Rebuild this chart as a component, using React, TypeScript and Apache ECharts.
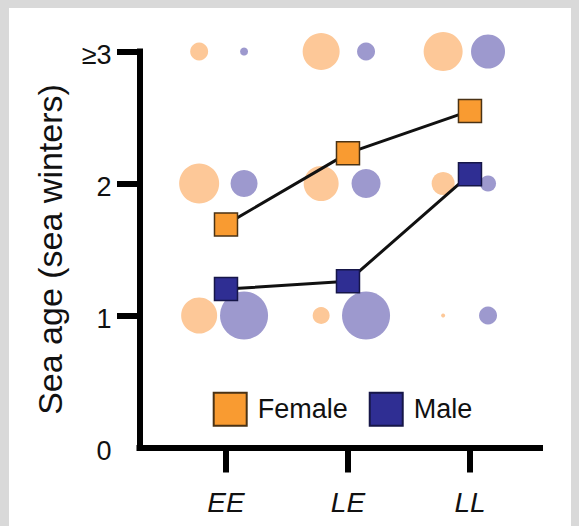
import React, { useEffect, useRef } from "react";
import * as echarts from "echarts";

const categories = ["EE", "LE", "LL"];
const ageRows = [1, 2, 3];
const yTickValues = [0, 1, 2, 3];
const yTickLabels = ["0", "1", "2", "≥3"];
const femaleMeans = [1.69, 2.23, 2.55];
const maleMeans = [1.2, 1.26, 2.07];
// bubble diameters per category, rows follow ageRows (1, 2, ≥3)
const femaleBubbles = [
  [36, 40, 18],
  [17, 35, 37],
  [4, 23, 39],
];
const maleBubbles = [
  [48, 27, 8],
  [48, 29, 18],
  [18, 16, 34],
];

const FONT = "'Liberation Sans', Arial, Helvetica, sans-serif";
const FEMALE_OFFSET = -0.22;
const MALE_OFFSET = 0.148;

export default function App() {
  const ref = useRef<HTMLDivElement>(null);

  useEffect(() => {
    if (!ref.current) return;
    const chart = echarts.init(ref.current, null, { renderer: "svg" });

    const bubbleData = (sets: number[][], offset: number) => {
      const out: number[][] = [];
      sets.forEach((row, ci) => {
        row.forEach((size, ri) => {
          out.push([ci + offset, ageRows[ri], size]);
        });
      });
      return out;
    };

    const catIdx = categories.map((_, i) => i);

    chart.setOption({
      animation: false,
      backgroundColor: "transparent",
      grid: {
        left: 139.5,
        right: 39,
        top: 51.5,
        bottom: 78.5,
        containLabel: false,
        outerBoundsMode: "none",
      },
      legend: {
        data: ["Female", "Male"],
        left: 212.7,
        top: 391.7,
        padding: 0,
        itemWidth: 33,
        itemHeight: 33,
        itemGap: 21,
        icon: "rect",
        selectedMode: false,
        textStyle: {
          fontSize: 27,
          color: "#111",
          fontFamily: FONT,
          padding: [0, 0, 0, 6],
        },
      },
      xAxis: {
        type: "value",
        min: -0.709,
        max: 2.574,
        splitLine: { show: false },
        axisLine: {
          show: true,
          onZero: false,
          lineStyle: { color: "#000", width: 6, cap: "square" },
        },
        axisTick: {
          show: true,
          customValues: catIdx,
          length: 25,
          lineStyle: { color: "#000", width: 6 },
        },
        axisLabel: {
          customValues: catIdx,
          formatter: (v: number) => categories[Math.round(v)] ?? "",
          margin: 41,
          fontSize: 28,
          fontStyle: "italic",
          color: "#111",
          fontFamily: FONT,
          verticalAlign: "top",
          lineHeight: 28,
        },
      },
      yAxis: {
        type: "value",
        min: 0,
        max: 3,
        interval: 1,
        name: "Sea age (sea winters)",
        nameLocation: "middle",
        nameGap: 73,
        nameTextStyle: { fontSize: 34, color: "#111", fontFamily: FONT },
        splitLine: { show: false },
        axisLine: {
          show: true,
          onZero: false,
          lineStyle: { color: "#000", width: 6, cap: "square" },
        },
        axisTick: {
          show: true,
          customValues: [1, 2, 3],
          length: 22.5,
          lineStyle: { color: "#000", width: 6 },
        },
        axisLabel: {
          showMinLabel: true,
          showMaxLabel: true,
          formatter: (v: number) =>
            "{t|" + (yTickLabels[yTickValues.indexOf(v)] ?? "") + "}",
          margin: 28,
          color: "#111",
          rich: {
            t: {
              fontSize: 27,
              fontFamily: FONT,
              color: "#111",
              padding: [7, 0, 0, 0],
            },
          },
        },
      },
      series: [
        {
          name: "Female proportion",
          type: "scatter",
          z: 1,
          data: bubbleData(femaleBubbles, FEMALE_OFFSET),
          symbol: "circle",
          symbolSize: (v: number[]) => v[2],
          itemStyle: { color: "#FDC898", opacity: 1 },
          silent: true,
        },
        {
          name: "Male proportion",
          type: "scatter",
          z: 1,
          data: bubbleData(maleBubbles, MALE_OFFSET),
          symbol: "circle",
          symbolSize: (v: number[]) => v[2],
          itemStyle: { color: "#9D99CE", opacity: 1 },
          silent: true,
        },
        {
          name: "Female",
          type: "line",
          z: 5,
          data: femaleMeans.map((m, i) => [i, m]),
          symbol: "rect",
          symbolSize: 23,
          showAllSymbol: true,
          lineStyle: { color: "#111", width: 3 },
          itemStyle: { color: "#F99B31", borderColor: "#4a3214", borderWidth: 1.5 },
        },
        {
          name: "Male",
          type: "line",
          z: 5,
          data: maleMeans.map((m, i) => [i, m]),
          symbol: "rect",
          symbolSize: 23,
          showAllSymbol: true,
          lineStyle: { color: "#111", width: 3 },
          itemStyle: { color: "#2F2E93", borderColor: "#161648", borderWidth: 1.5 },
        },
      ],
    });

    return () => chart.dispose();
  }, []);

  return (
    <div
      style={{
        position: "fixed",
        left: 0,
        top: 0,
        width: 579,
        height: 526,
        background: "#d9d9d9",
        overflow: "hidden",
      }}
    >
      <div
        style={{
          position: "absolute",
          left: 9,
          top: 8,
          width: 562,
          height: 530,
          background: "#ffffff",
        }}
      />
      <div
        ref={ref}
        style={{ position: "absolute", left: 0, top: 0, width: 579, height: 526 }}
      />
    </div>
  );
}
